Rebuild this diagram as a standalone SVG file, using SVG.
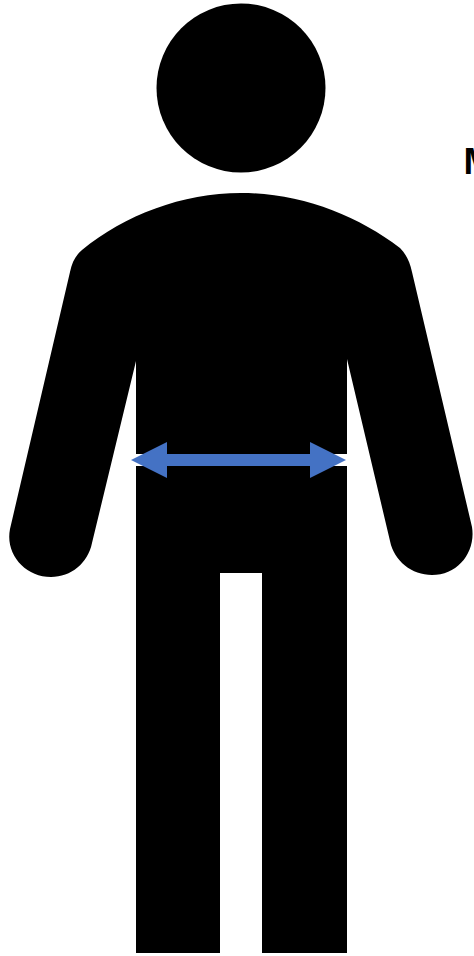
<svg xmlns="http://www.w3.org/2000/svg" width="474" height="956" viewBox="0 0 474 956">
<style>
.fig{fill:#000}
.label{font-family:"Liberation Sans",Arial,sans-serif;font-size:37px;font-weight:bold;fill:#000}
</style>
<rect width="474" height="956" fill="#fff"/>
<g id="head"><circle class="fig" cx="241" cy="88" r="84.5"/></g>
<g id="body">
<path class="fig" d="M241 193 C300 193 357 215 400 248 C406 254 410 262 412 272 L472 527 C476 552 458 575 432 575 C412 575 394 561 390 541 L347 359 L347 953 L262 953 L262 573 L220 573 L220 953 L136 953 L136 361 L92 543 C88 563 71 577 51 577 C25 577 5 554 10 529 L70 272 C72 262 76 255 82 250 C125 215 182 193 241 193 Z"/>
<rect x="135" y="454" width="212" height="12" fill="#fff"/>
</g>
<g id="connectors">
<path id="waist-arrow" fill="#4472c4" d="M131 460 L167 442 L167 454 L310 454 L310 442 L346 460 L310 478 L310 466 L167 466 L167 478 Z"/>
</g>
<g id="label-node"><text class="label" x="463.5" y="174">M</text></g>
</svg>
